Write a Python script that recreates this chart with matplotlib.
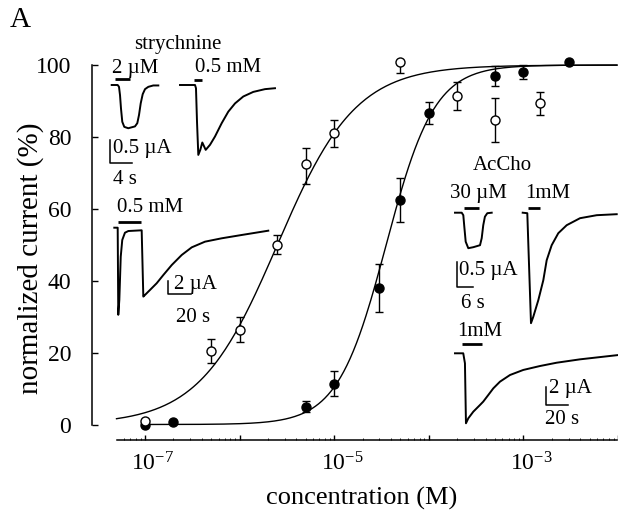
import numpy as np
import matplotlib
matplotlib.use("Agg")
import matplotlib.pyplot as plt
from matplotlib.lines import Line2D
from matplotlib.transforms import ScaledTranslation

plt.rcParams['font.family'] = ['Liberation Serif', 'DejaVu Serif']
plt.rcParams['mathtext.fontset'] = 'custom'
plt.rcParams['mathtext.rm'] = 'Liberation Serif'
plt.rcParams['mathtext.it'] = 'Liberation Serif:italic'

# dose-response data (normalized current, %)
open_conc = [1e-7, 5e-7, 1e-6, 2.5e-6, 5e-6, 1e-5, 5e-5, 2e-4, 5e-4, 1.5e-3]
open_resp = [0.9, 20.5, 26.4, 50.0, 72.5, 81.0, 100.8, 91.4, 84.7, 89.4]
open_err_lo = [0, 3.4, 3.4, 2.7, 5.5, 3.7, 3.0, 4.0, 6.1, 3.2]
open_err_hi = [0, 3.4, 3.4, 2.7, 4.5, 3.7, 0.0, 4.0, 6.1, 3.2]

filled_conc = [1e-7, 2e-7, 5e-6, 1e-5, 3e-5, 5e-5, 1e-4, 5e-4, 1e-3, 3e-3]
filled_resp = [-0.2, 0.8, 5.0, 11.4, 38.0, 62.5, 86.7, 97.0, 98.0, 100.8]
filled_err = [0, 0, 1.5, 3.5, 6.7, 6.1, 3.0, 2.7, 2.0, 0]

# Hill fits
open_ec50, open_nh = 10**-5.6, 1.05
filled_ec50, filled_nh = 10**-4.45, 1.7

# current traces: time (s), current (uA), drug application (s)
t1 = [0, 1.11, 1.35, 1.54, 1.72, 1.96, 2.33, 3.07, 4.31, 4.74, 5.06, 5.37, 5.74, 6.17, 6.78, 7.70, 8.63]
i1 = [0, 0, -0.04, -0.22, -0.51, -0.80, -0.91, -0.94, -0.90, -0.83, -0.65, -0.40, -0.20, -0.09, -0.04, -0.01, -0.01]
app1 = (0.61, 3.39)

t2 = [0, 2.78, 2.96, 3.15, 3.39, 3.76, 4.13, 4.76, 5.56, 6.48, 7.72, 8.94, 10.19, 11.72, 13.57, 15.74, 17.59]
i2 = [0, 0, -0.07, -0.80, -1.52, -1.41, -1.25, -1.41, -1.30, -1.12, -0.83, -0.58, -0.40, -0.25, -0.15, -0.09, -0.07]
app2 = (2.65, 4.13)

t3 = [0, 2.9, 3.4, 4.3, 5.5, 6.8, 9.1, 12.0, 23.4, 24.8, 26.2, 30.5, 36.2, 41.9, 49.1, 57.6, 66.2, 77.5, 91.8, 108.9, 131.6]
i3 = [0, 0, -13.4, -11.1, -4.46, -1.89, -0.77, -0.51, -0.40, -10.6, -10.35, -9.58, -8.55, -7.28, -5.74, -4.20, -3.02, -2.15, -1.63, -1.12, -0.46]
app3 = (2.9, 22.8)

t4 = [0, 2.42, 3.0, 3.36, 3.86, 4.80, 6.6, 9.03, 9.64, 10.2, 10.8, 11.66, 13.25]
i4 = [0, 0, -0.05, -0.28, -0.58, -0.71, -0.69, -0.65, -0.51, -0.25, -0.08, -0.01, 0]
app4 = (3.2, 8.8)

t5 = [0, 1.66, 2.02, 2.63, 2.99, 3.83, 5.63, 7.44, 8.66, 10.46, 12.85, 15.88, 20.69, 26.72, 33.94]
i5 = [0, -0.01, -0.61, -1.61, -2.21, -2.08, -1.75, -1.35, -0.95, -0.65, -0.41, -0.25, -0.11, -0.05, -0.03]
app5 = (2.0, 6.2)

t6 = [0, 7.3, 8.8, 9.7, 11.8, 16.2, 22.1, 25.0, 29.5, 33.9, 39.8, 48.7, 60.4, 75.2, 89.9, 110.6, 144.5]
i6 = [0, 0, -1.09, -7.65, -7.10, -6.38, -5.65, -5.28, -4.55, -3.83, -3.10, -2.37, -1.82, -1.39, -1.03, -0.66, -0.19]
app6 = (5.9, 23.6)

W, H = 618, 521
fig = plt.figure(figsize=(W / 100, H / 100), dpi=100)


def fx(x):
    return x / W


def fy(y):
    return 1 - y / H


# main axes, pixel box x 92..618, y 55..440
xlo, xhi, xstart = 10**-7.559, 10**-2.011, 10**-7.3
ax = fig.add_axes([fx(92), fy(440), fx(618) - fx(92), fy(55) - fy(440)])
ax.set_xscale('log')
ax.set_xlim(xlo, xhi)
ax.set_ylim(-4.31, 102.8)

def hill(c, ec50, nh):
    return 100 / (1 + (ec50 / c)**nh)

c_open = np.logspace(-7.3, -2.011, 300)
c_filled = np.logspace(-7, -2.011, 300)
ax.plot(c_open, hill(c_open, open_ec50, open_nh), color='black', lw=1.0, zorder=2)
ax.plot(c_filled, hill(c_filled, filled_ec50, filled_nh), color='black', lw=1.0, zorder=2)

ax.errorbar(filled_conc, filled_resp, yerr=filled_err, fmt='o', color='black',
            ms=6.5, mfc='black', mec='black', ecolor='black', elinewidth=1.0,
            capsize=3, capthick=1.0, zorder=3)
ax.errorbar(open_conc, open_resp, yerr=[open_err_lo, open_err_hi], fmt='o', color='black',
            ms=6.5, mfc='white', mec='black', mew=1.0, ecolor='black', elinewidth=1.0,
            capsize=3, capthick=1.0, zorder=4)

for s in ['top', 'right']:
    ax.spines[s].set_visible(False)
ax.spines['left'].set_bounds(0, 100)
ax.spines['bottom'].set_bounds(xstart, xhi)
ax.spines['left'].set_linewidth(1.1)
ax.spines['bottom'].set_linewidth(1.1)

ax.set_yticks([0, 20, 40, 60, 80, 100])
ax.tick_params(axis='y', direction='in', length=4.5, width=1.0, pad=15, labelsize=17)
ax.set_xticks([1e-7, 1e-6, 1e-5, 1e-4, 1e-3, 1e-2])
ax.set_xticklabels([r'$\mathregular{10^{-7}}$', '', r'$\mathregular{10^{-5}}$', '',
                    r'$\mathregular{10^{-3}}$', ''])
minor = [m * 10.0**e for e in range(-8, -2) for m in range(2, 10)]
ax.set_xticks([v for v in minor if xstart <= v <= xhi], minor=True)
ax.tick_params(axis='x', which='major', direction='in', length=3.8, width=1.0, pad=9, labelsize=17)
ax.tick_params(axis='x', which='minor', direction='in', length=1.5, width=0.6)
for lab in ax.get_xticklabels():
    lab.set_transform(lab.get_transform() + ScaledTranslation(8 / 100, 0, fig.dpi_scale_trans))

ax.set_xlabel('concentration (M)', fontsize=19)
ax.xaxis.set_label_coords((362 - 92) / 526, (440 - 487) / 385)
ax.set_ylabel('normalized current (%)', fontsize=21)
ax.yaxis.set_label_coords((44 - 92) / 526, (440 - 258) / 385)

fig.text(fx(10), fy(20), 'A', fontsize=21, ha='left', va='center')


# inset traces
def trace(t, cur, app, x0, y0, pps, ppa, bar_px=6, w=200, up=15, down=120):
    a = fig.add_axes([fx(x0), fy(y0 + down), fx(w), (up + down) / H])
    a.set_xlim(0, w / pps)
    a.set_ylim(-down / ppa, up / ppa)
    a.axis('off')
    a.plot(t, cur, color='black', lw=1.4, solid_joinstyle='round', clip_on=False)
    a.plot(app, [bar_px / ppa] * 2, color='black', lw=2.0, solid_capstyle='butt', clip_on=False)


def scalebar(x, y, sec, ua, pps, ppa):
    fig.add_artist(Line2D([fx(x), fx(x), fx(x + sec * pps)],
                          [fy(y - ua * ppa), fy(y), fy(y)], color='black', lw=1.1))


def label(x, y, s, ha='center'):
    fig.text(fx(x), fy(y), s, fontsize=15, ha=ha, va='center')


# strychnine, small traces
trace(t1, i1, app1, 111.7, 85, 5.4, 46)
trace(t2, i2, app2, 180, 85, 5.4, 46, bar_px=5)
scalebar(110, 163, 4, 0.5, 5.4, 46)
label(178, 45, 'strychnine')
label(135, 68, '2 µM')
label(228, 68, '0.5 mM')
label(113, 148, '0.5 µA', ha='left')
label(125, 180, '4 s')

# strychnine, long trace
trace(t3, i3, app3, 114.3, 227.7, 1.17, 6.5, bar_px=5.5)
scalebar(168, 294, 20, 2, 1.17, 6.5)
label(150, 208, '0.5 mM')
label(174, 284, '2 µA', ha='left')
label(193, 317, '20 s')

# AcCho traces
trace(t4, i4, app4, 455, 212.7, 2.77, 50, bar_px=5)
trace(t5, i5, app5, 522.7, 212.7, 2.77, 50, bar_px=5)
scalebar(456.7, 286.7, 6, 0.5, 2.77, 50)
label(502, 165, 'AcCho')
label(478, 193, '30 µM')
label(548, 193, '1mM')
label(459, 270, '0.5 µA', ha='left')
label(473, 304, '6 s')

trace(t6, i6, app6, 455, 353.3, 1.13, 9.15, bar_px=9)
scalebar(545.7, 405, 20, 2, 1.13, 9.15)
label(480, 332, '1mM')
label(549, 389, '2 µA', ha='left')
label(562, 420, '20 s')

fig.savefig('out.png', dpi=100)
